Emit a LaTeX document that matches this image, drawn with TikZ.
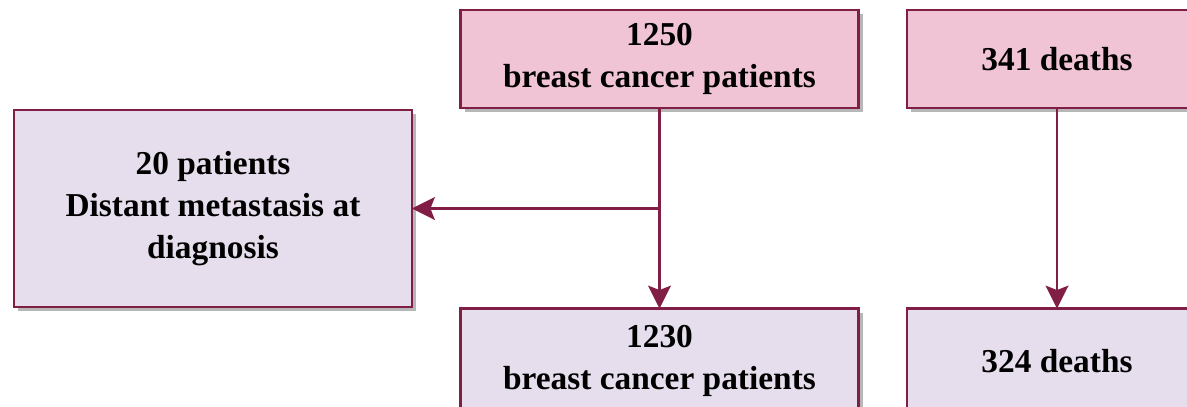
\documentclass[tikz,border=0pt]{standalone}
\usepackage{fontspec}
\setmainfont{Liberation Serif}
\usetikzlibrary{arrows.meta,shadows}
\definecolor{boxline}{RGB}{128,30,70}
\definecolor{pinkfill}{RGB}{240,196,212}
\definecolor{lilacfill}{RGB}{230,222,236}
\begin{document}
\begin{tikzpicture}[x=0.02cm,y=-0.02cm,inner sep=0pt,outer sep=0pt,
flowbox/.style={draw=boxline,rectangle,line width=1.5pt,align=center,
  font=\fontsize{19}{24}\selectfont\bfseries,
  drop shadow={shadow xshift=2.5pt,shadow yshift=-2.5pt,fill=black!40,opacity=0.7}},
topbox/.style={flowbox,fill=pinkfill,minimum width=7.96cm,minimum height=1.96cm},
lowbox/.style={flowbox,fill=lilacfill},
flowarrow/.style={draw=boxline,line width=1.5pt,-{Stealth[length=13pt,width=13pt,inset=2.5pt]}}]
\useasboundingbox (0,0) rectangle (1187,406);
\draw (659.5,59) node[topbox] (start) {1250\\breast cancer patients};
\draw (1057,59) node[topbox,minimum width=6cm] (deathsA) {341 deaths};
\draw (213,208.5) node[lowbox,minimum width=7.96cm,minimum height=3.94cm] (meta) {20 patients\\Distant metastasis at\\diagnosis};
\draw (659.5,361) node[lowbox,minimum width=7.96cm,minimum height=2.1cm] (cohort) {1230\\breast cancer patients};
\draw (1057,361) node[lowbox,minimum width=6cm,minimum height=2.1cm] (deathsB) {324 deaths};
\coordinate (split) at (start.south |- meta.east);
\draw[flowarrow] (start.south) -- (cohort.north);
\draw[flowarrow] (split) -- (meta.east);
\draw[flowarrow] (deathsA.south) -- (deathsB.north);
\end{tikzpicture}
\end{document}
